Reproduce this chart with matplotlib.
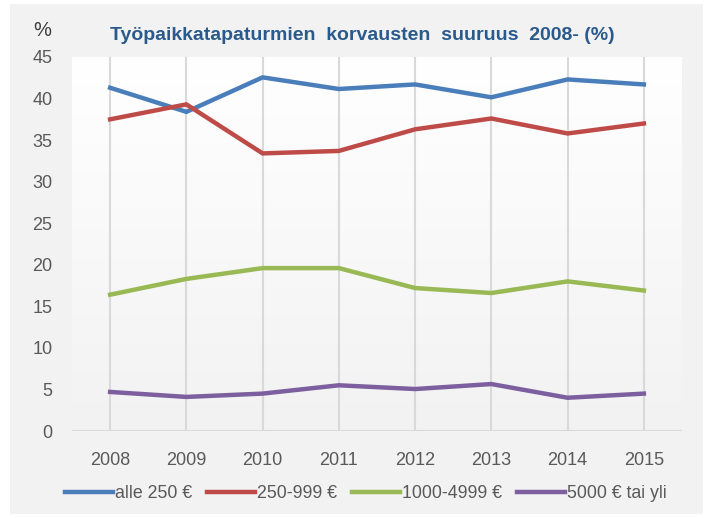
import matplotlib
matplotlib.use("Agg")
import matplotlib.pyplot as plt
import numpy as np
from matplotlib.patches import Rectangle
from matplotlib.colors import LinearSegmentedColormap

years = ["2008", "2009", "2010", "2011", "2012", "2013", "2014", "2015"]
alle_250 = [41.3, 38.4, 42.55, 41.15, 41.7, 40.15, 42.3, 41.7]
e250_999 = [37.5, 39.3, 33.4, 33.7, 36.3, 37.6, 35.8, 37.0]
e1000_4999 = [16.4, 18.3, 19.6, 19.6, 17.2, 16.6, 18.0, 16.9]
e5000_plus = [4.7, 4.1, 4.5, 5.5, 5.05, 5.65, 4.0, 4.5]
series_labels = ["alle 250 €", "250-999 €", "1000-4999 €", "5000 € tai yli"]
series_colors = ["#4a7ebb", "#be4b48", "#98b954", "#7d5fa0"]
yticks = [0, 5, 10, 15, 20, 25, 30, 35, 40, 45]
title = "Työpaikkatapaturmien  korvausten  suuruus  2008- (%)"

plt.rcParams['font.family'] = ['Liberation Sans Narrow', 'Liberation Sans', 'DejaVu Sans']

W, H = 708, 518
fig = plt.figure(figsize=(W / 100, H / 100), dpi=100)
fig.patch.set_facecolor("white")

bg = fig.add_axes([0, 0, 1, 1], zorder=-5)
bg.set_xlim(0, W)
bg.set_ylim(H, 0)
bg.axis("off")
bg.add_patch(Rectangle((10, 4), 693, 510, facecolor="#f2f2f2", edgecolor="none"))

ax = fig.add_axes([72 / W, 1 - 431 / H, 610 / W, 374 / H], zorder=1)
ax.set_facecolor("none")
grad = np.linspace(1, 0, 256).reshape(-1, 1)
cmap = LinearSegmentedColormap.from_list("g", ["#f2f2f2", "#ffffff"])
ax.imshow(grad, cmap=cmap, aspect="auto", extent=[0, 1, 0, 1], transform=ax.transAxes,
          zorder=0, origin="upper", vmin=0, vmax=1)

x = np.arange(len(years))
for vals, lab, col in zip([alle_250, e250_999, e1000_4999, e5000_plus], series_labels, series_colors):
    ax.plot(x, vals, color=col, lw=3.2, label=lab, zorder=3, solid_joinstyle="miter")

ax.set_xlim(-0.5, len(years) - 0.5)
ax.set_ylim(0, 45)
ax.set_yticks(yticks)
ax.set_yticklabels([str(v) for v in yticks])
ax.set_xticks(x)
ax.set_xticklabels(years)
for xv in x:
    ax.axvline(xv, color="#d9d9d9", lw=1.5, zorder=1)
ax.axhline(0, color="#d9d9d9", lw=1.5, zorder=2)
for s in ax.spines.values():
    s.set_visible(False)
ax.tick_params(axis="both", length=0, labelsize=13, colors="#595959")
ax.tick_params(axis="y", pad=14)
ax.tick_params(axis="x", pad=15)

fig.text(362 / W, 1 - 35 / H, title, ha="center", va="center", fontsize=14,
         fontweight="bold", color="#2a5a8c")
fig.text(33 / W, 1 - 30 / H, "%", ha="left", va="center", fontsize=14.5, color="#404040")

leg = fig.legend(loc="center", bbox_to_anchor=(366 / W, 1 - 494 / H), ncol=4, frameon=False,
                 fontsize=12.8, handlelength=2.7, handletextpad=0.1, columnspacing=0.85,
                 labelcolor="#595959")

fig.savefig("out.png", dpi=100)
